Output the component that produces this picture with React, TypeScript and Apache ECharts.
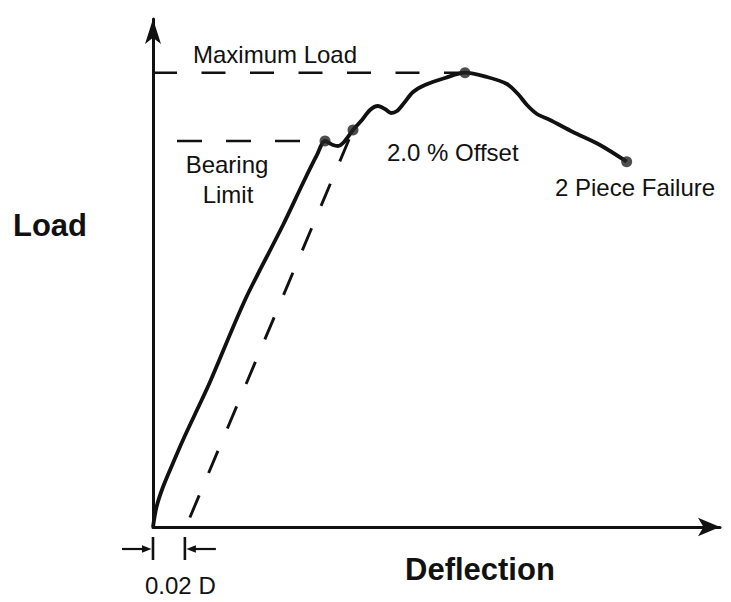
import React, { useEffect, useRef } from "react";
import * as echarts from "echarts";

// Load–deflection curve (arbitrary units: deflection 0..100, load 0..100)
const curveDeflection: number[] = [
  0, 0.62, 1.76, 3.53, 5.29, 7.76, 10.05, 16.23, 22.93, 26.46, 28.92, 30.34, 31.75,
  32.63, 33.69, 35.27, 36.86, 38.27, 39.68, 40.92, 41.98, 43.03, 44.27, 45.86, 47.97,
  51.5, 55.03, 58.91, 62.43, 64.37, 65.96, 67.72, 70.02, 74.07, 78.84, 83.54,
];
const curveLoad: number[] = [
  0, 3.94, 7.87, 12.6, 17.13, 23.03, 28.54, 44.69, 59.45, 67.72, 73.23, 75.98, 75.2,
  75.0, 75.79, 78.15, 80.12, 82.09, 82.87, 82.28, 81.5, 81.89, 83.46, 85.63, 87.01,
  88.39, 89.43, 88.58, 87.2, 85.24, 83.07, 81.3, 80.12, 77.76, 75.2, 71.91,
];

// Key points: bearing limit, 2.0 % offset, maximum load, 2 piece failure
const keyNames: string[] = ["Bearing Limit", "2.0 % Offset", "Maximum Load", "2 Piece Failure"];
const keyDeflection: number[] = [30.34, 35.27, 55.03, 83.54];
const keyLoad: number[] = [75.98, 78.15, 89.43, 71.91];

// Offset (0.02 D) in deflection units
const OFFSET = 5.8;
// Bearing limit guide extent
const bearingGuideX: number[] = [4.23, 25.93];

const INK = "#111";
const FONT = "'Liberation Sans', Arial, Helvetica, sans-serif";

export default function App() {
  const ref = useRef<HTMLDivElement>(null);

  useEffect(() => {
    if (!ref.current) return;
    const chart = echarts.init(ref.current, undefined, { renderer: "svg" });

    const curve = curveDeflection.map((x, i) => [x, curveLoad[i]]);
    const keys = keyDeflection.map((x, i) => ({ name: keyNames[i], value: [x, keyLoad[i]] }));
    const peakX = keyDeflection[2];
    const peakY = keyLoad[2];
    const bearingY = keyLoad[0];

    const axisCommon = {
      type: "value" as const,
      min: 0,
      max: 100,
      axisTick: { show: false },
      axisLabel: { show: false },
      splitLine: { show: false },
    };

    chart.setOption({
      animation: false,
      backgroundColor: "#fff",
      grid: { left: 153, right: 11, top: 19, bottom: 75, containLabel: false },
      xAxis: {
        ...axisCommon,
        axisLine: {
          show: true,
          symbol: ["none", "arrow"],
          symbolSize: [14, 22],
          lineStyle: { color: INK, width: 3 },
        },
      },
      yAxis: {
        ...axisCommon,
        axisLine: {
          show: true,
          symbol: ["none", "arrow"],
          symbolSize: [12, 25],
          lineStyle: { color: INK, width: 3 },
        },
      },
      series: [
        {
          name: "Maximum Load guide",
          type: "line",
          data: [
            [0, peakY],
            [peakX, peakY],
          ],
          symbol: "none",
          lineStyle: { color: INK, width: 2.6, type: [24, 24.5] },
          z: 1,
        },
        {
          name: "Bearing Limit guide",
          type: "line",
          data: [
            [bearingGuideX[0], bearingY],
            [bearingGuideX[1], bearingY],
          ],
          symbol: "none",
          lineStyle: { color: INK, width: 2.6, type: [25, 24] },
          z: 1,
        },
        {
          name: "Offset line",
          type: "line",
          data: [
            [OFFSET, 0],
            [keyDeflection[1], keyLoad[1]],
          ],
          symbol: "none",
          lineStyle: { color: INK, width: 2.9, type: [24, 24.3], dashOffset: 37.5 },
          z: 1,
        },
        {
          name: "Load",
          type: "line",
          data: curve,
          smooth: 0.3,
          symbol: "none",
          lineStyle: { color: INK, width: 3.8 },
          z: 2,
        },
        {
          name: "Key points",
          type: "scatter",
          data: keys,
          symbol: "circle",
          symbolSize: 11,
          itemStyle: { color: "#222" },
          z: 3,
        },
      ],
    });

    const p0 = chart.convertToPixel({ gridIndex: 0 }, [0, 0]) as number[];
    const p1 = chart.convertToPixel({ gridIndex: 0 }, [OFFSET, 0]) as number[];
    const baseY = p0[1];
    const tickTop = baseY + 10;
    const tickBot = baseY + 33;
    const arrY = baseY + 22;

    const text = (t: string, x: number, y: number, size: number, bold = false, align = "left") => ({
      type: "text",
      x,
      y,
      style: {
        text: t,
        fill: INK,
        font: `${bold ? "bold " : ""}${size}px ${FONT}`,
        textAlign: align,
        textVerticalAlign: "middle",
      },
    });

    chart.setOption({
      graphic: [
        { type: "line", shape: { x1: p0[0], y1: tickTop, x2: p0[0], y2: tickBot }, style: { stroke: INK, lineWidth: 2.6 } },
        { type: "line", shape: { x1: p1[0] - 1, y1: tickTop, x2: p1[0] - 1, y2: tickBot }, style: { stroke: INK, lineWidth: 2.6 } },
        { type: "line", shape: { x1: p0[0] - 31, y1: arrY, x2: p0[0] - 6, y2: arrY }, style: { stroke: INK, lineWidth: 2.2 } },
        {
          type: "polygon",
          shape: { points: [[p0[0] - 1.5, arrY], [p0[0] - 11, arrY - 3.8], [p0[0] - 11, arrY + 3.8]] },
          style: { fill: INK },
        },
        { type: "line", shape: { x1: p1[0] + 5, y1: arrY, x2: p1[0] + 30, y2: arrY }, style: { stroke: INK, lineWidth: 2.2 } },
        {
          type: "polygon",
          shape: { points: [[p1[0] + 0.5, arrY], [p1[0] + 10, arrY - 3.8], [p1[0] + 10, arrY + 3.8]] },
          style: { fill: INK },
        },
        text("0.02 D", 145, 585, 24),
        text("Maximum Load", 193, 54, 24),
        text("Bearing", 227, 164, 24, false, "center"),
        text("Limit", 228, 194, 24, false, "center"),
        text("2.0 % Offset", 387, 152, 24),
        text("2 Piece Failure", 555, 187, 24),
        text("Load", 13, 225, 31, true),
        text("Deflection", 405, 569, 31, true),
      ],
    });

    return () => chart.dispose();
  }, []);

  return (
    <div
      ref={ref}
      style={{ position: "fixed", left: 0, top: 0, width: 731, height: 602, background: "#fff" }}
    />
  );
}
